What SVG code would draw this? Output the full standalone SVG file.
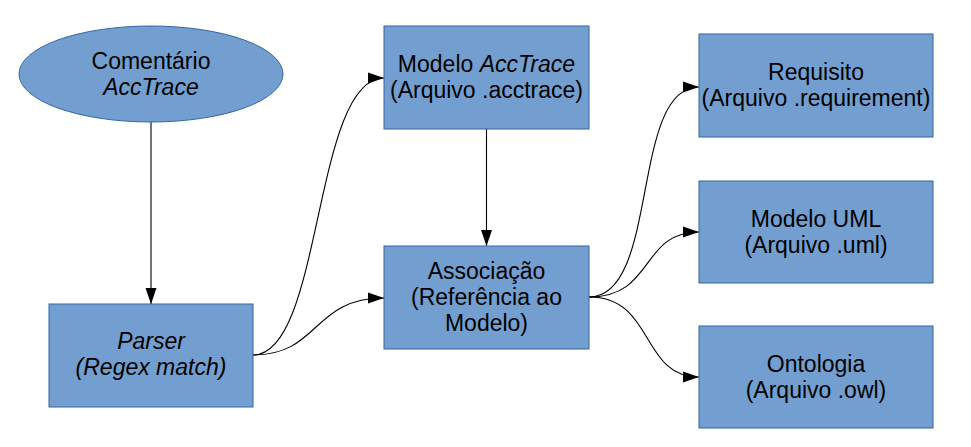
<svg xmlns="http://www.w3.org/2000/svg" width="971" height="447" viewBox="0 0 971 447">
<style>
.n{fill:#729fcf;stroke:#3465a4;stroke-width:1}
.t{font-family:"Liberation Sans",Arial,sans-serif;font-size:23px;fill:#000;text-anchor:middle}
.i{font-style:italic}
.c{fill:none;stroke:#000;stroke-width:1.1}
</style>
<defs>
<marker id="ar" markerUnits="userSpaceOnUse" markerWidth="17" markerHeight="12" refX="16" refY="6" orient="auto">
<path d="M0,0.5 L16,6 L0,11.5 z" fill="#000"/>
</marker>
</defs>
<rect width="971" height="447" fill="#fff"/>
<g id="connectors">
<path class="c" d="M151,122 L151,304" marker-end="url(#ar)"/>
<path class="c" d="M253,355 C323,355 313,78 384,78" marker-end="url(#ar)"/>
<path class="c" d="M253,355 C320,355 312,298 384,298" marker-end="url(#ar)"/>
<path class="c" d="M486.5,129 L486.5,246" marker-end="url(#ar)"/>
<path class="c" d="M589,297 C660,297 630,87 699,87" marker-end="url(#ar)"/>
<path class="c" d="M589,297 C655,297 640,232 699,232" marker-end="url(#ar)"/>
<path class="c" d="M589,297 C655,297 640,377 699,377" marker-end="url(#ar)"/>
</g>
<g id="comentario">
<ellipse class="n" cx="151" cy="74" rx="132" ry="48"/>
<text class="t" x="151" y="69">Comentário</text>
<text class="t i" x="151" y="95">AccTrace</text>
</g>
<g id="parser">
<rect class="n" x="49" y="304" width="204" height="103"/>
<text class="t i" x="151" y="349">Parser</text>
<text class="t i" x="151" y="375">(Regex match)</text>
</g>
<g id="modelo-acctrace">
<rect class="n" x="384" y="26" width="205" height="103"/>
<text class="t" x="486.5" y="72">Modelo <tspan class="i">AccTrace</tspan></text>
<text class="t" x="486.5" y="98">(Arquivo .acctrace)</text>
</g>
<g id="associacao">
<rect class="n" x="384" y="246" width="205" height="103"/>
<text class="t" x="486.5" y="278.5">Associação</text>
<text class="t" x="486.5" y="304.5">(Referência ao</text>
<text class="t" x="486.5" y="330.5">Modelo)</text>
</g>
<g id="requisito">
<rect class="n" x="699" y="34" width="234" height="103"/>
<text class="t" x="816" y="80">Requisito</text>
<text class="t" x="816" y="106">(Arquivo .requirement)</text>
</g>
<g id="modelo-uml">
<rect class="n" x="699" y="181" width="234" height="102"/>
<text class="t" x="816" y="227">Modelo UML</text>
<text class="t" x="816" y="253">(Arquivo .uml)</text>
</g>
<g id="ontologia">
<rect class="n" x="699" y="326" width="234" height="102"/>
<text class="t" x="816" y="372">Ontologia</text>
<text class="t" x="816" y="398">(Arquivo .owl)</text>
</g>
</svg>
